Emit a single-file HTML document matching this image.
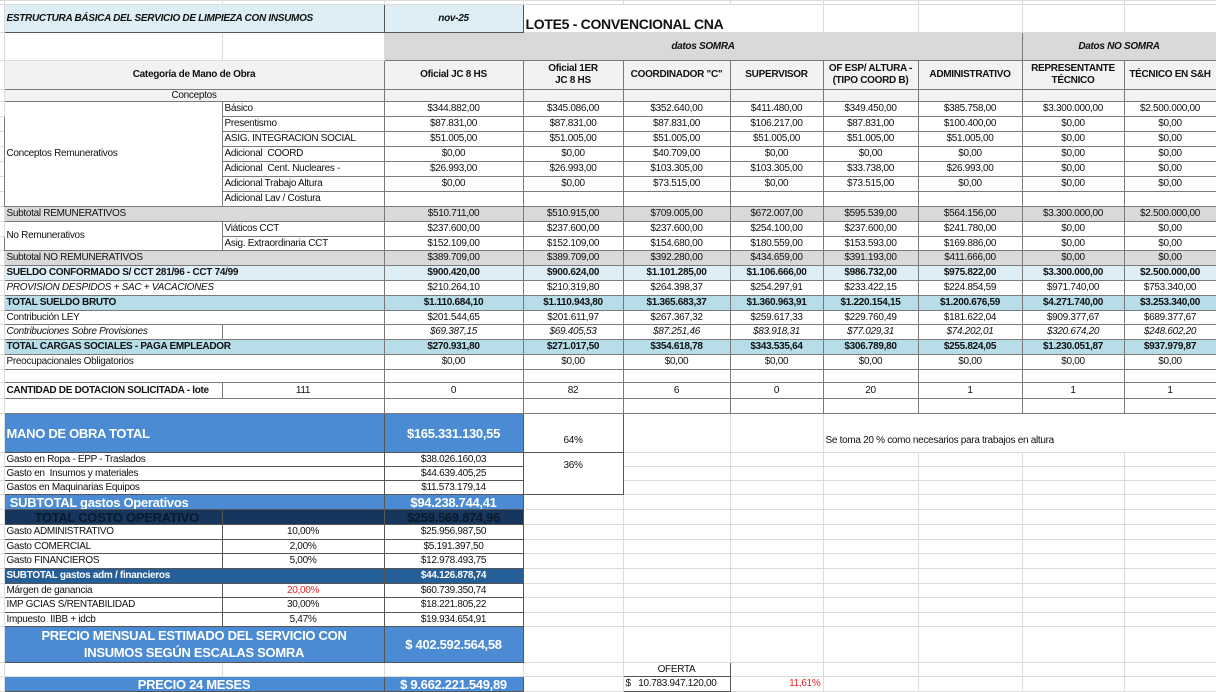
<!DOCTYPE html>
<html><head><meta charset="utf-8">
<style>
html,body{margin:0;padding:0;background:#fff;width:1216px;height:692px;overflow:hidden}
table{border-collapse:collapse;table-layout:fixed;width:1216px;font-family:"Liberation Sans",sans-serif;font-size:10px;letter-spacing:-0.3px;color:#111;position:absolute;left:0;top:0}
td{border:1px solid #dcdcdc;padding:0 2px;overflow:hidden;white-space:nowrap;line-height:1;text-align:center}
tr.d td:not(.m){border-color:#7a7a7a}
td.k{border-color:#555 !important}
.l{text-align:left}
.b{font-weight:bold}
.i{font-style:italic}
.g{background:#d9d9d9}
.lg{background:#f2f2f2}
.lb{background:#ddeef6}
.tb{background:#b7dde8}
.bl{background:#4a8bd3;color:#fff;font-weight:bold}
.nv{background:#17365d;color:#0b1a2c;font-weight:bold;font-size:13px}
.db{background:#265f97;color:#fff;font-weight:bold}
.r{color:#e8262b}
.big{font-size:13px}
td.m{border-left:none;padding:0}
</style></head><body>
<table>
<colgroup><col style="width:4px"><col style="width:218px"><col style="width:162px"><col style="width:139px"><col style="width:100px"><col style="width:107px"><col style="width:93px"><col style="width:95px"><col style="width:104px"><col style="width:102px"><col style="width:92px"></colgroup>
<tr style="height:4px"><td class="m"></td><td></td><td></td><td></td><td></td><td></td><td></td><td></td><td></td><td></td><td></td></tr>
<tr class="d" style="height:28px"><td class="m"></td><td colspan="2" class="l b i lb k">ESTRUCTURA BÁSICA DEL SERVICIO DE LIMPIEZA CON INSUMOS</td><td class="b i lb k">nov-25</td><td colspan="3" class="l b" style="font-size:14px;vertical-align:bottom;padding-bottom:1px;border-color:#dcdcdc">LOTE5 - CONVENCIONAL CNA</td><td style="border-color:#dcdcdc"></td><td style="border-color:#dcdcdc"></td><td style="border-color:#dcdcdc"></td><td style="border-color:#dcdcdc"></td></tr>
<tr class="d" style="height:28px"><td class="m"></td><td style="border-color:#dcdcdc"></td><td style="border-color:#dcdcdc"></td><td colspan="6" class="b i g">datos SOMRA</td><td colspan="2" class="b i g">Datos NO SOMRA</td></tr>
<tr class="d" style="height:29px"><td class="m"></td><td colspan="2" class="b lg">Categoría de Mano de Obra</td><td class="b lg">Oficial JC 8 HS</td><td class="b lg" style="line-height:1.25">Oficial 1ER<br>JC 8 HS</td><td class="b lg">COORDINADOR "C"</td><td class="b lg">SUPERVISOR</td><td class="b lg" style="line-height:1.25">OF ESP/ ALTURA -<br>(TIPO COORD B)</td><td class="b lg">ADMINISTRATIVO</td><td class="b lg" style="line-height:1.25">REPRESENTANTE<br>TÉCNICO</td><td class="b lg">TÉCNICO EN S&amp;H</td></tr>
<tr class="d" style="height:12px"><td class="m"></td><td colspan="2" class="lg">Conceptos</td><td class="lg"></td><td class="lg"></td><td class="lg"></td><td class="lg"></td><td class="lg"></td><td class="lg"></td><td class="lg"></td><td class="lg"></td></tr>
<tr class="d" style="height:15px"><td class="m"></td><td rowspan="7" class="l">Conceptos Remunerativos</td><td class="l">Básico</td><td>$344.882,00</td><td>$345.086,00</td><td>$352.640,00</td><td>$411.480,00</td><td>$349.450,00</td><td>$385.758,00</td><td>$3.300.000,00</td><td>$2.500.000,00</td></tr>
<tr class="d" style="height:15px"><td class="m"></td><td class="l">Presentismo</td><td>$87.831,00</td><td>$87.831,00</td><td>$87.831,00</td><td>$106.217,00</td><td>$87.831,00</td><td>$100.400,00</td><td>$0,00</td><td>$0,00</td></tr>
<tr class="d" style="height:15px"><td class="m"></td><td class="l">ASIG. INTEGRACION SOCIAL</td><td>$51.005,00</td><td>$51.005,00</td><td>$51.005,00</td><td>$51.005,00</td><td>$51.005,00</td><td>$51.005,00</td><td>$0,00</td><td>$0,00</td></tr>
<tr class="d" style="height:15px"><td class="m"></td><td class="l">Adicional&nbsp; COORD</td><td>$0,00</td><td>$0,00</td><td>$40.709,00</td><td>$0,00</td><td>$0,00</td><td>$0,00</td><td>$0,00</td><td>$0,00</td></tr>
<tr class="d" style="height:15px"><td class="m"></td><td class="l">Adicional&nbsp; Cent. Nucleares -</td><td>$26.993,00</td><td>$26.993,00</td><td>$103.305,00</td><td>$103.305,00</td><td>$33.738,00</td><td>$26.993,00</td><td>$0,00</td><td>$0,00</td></tr>
<tr class="d" style="height:15px"><td class="m"></td><td class="l">Adicional Trabajo Altura</td><td>$0,00</td><td>$0,00</td><td>$73.515,00</td><td>$0,00</td><td>$73.515,00</td><td>$0,00</td><td>$0,00</td><td>$0,00</td></tr>
<tr class="d" style="height:15px"><td class="m"></td><td class="l">Adicional Lav / Costura</td><td></td><td></td><td></td><td></td><td></td><td></td><td></td><td></td></tr>
<tr class="d" style="height:15px"><td class="m"></td><td colspan="2" class="l g">Subtotal REMUNERATIVOS</td><td class="g">$510.711,00</td><td class="g">$510.915,00</td><td class="g">$709.005,00</td><td class="g">$672.007,00</td><td class="g">$595.539,00</td><td class="g">$564.156,00</td><td class="g">$3.300.000,00</td><td class="g">$2.500.000,00</td></tr>
<tr class="d" style="height:15px"><td class="m"></td><td rowspan="2" class="l">No Remunerativos</td><td class="l">Viáticos CCT</td><td>$237.600,00</td><td>$237.600,00</td><td>$237.600,00</td><td>$254.100,00</td><td>$237.600,00</td><td>$241.780,00</td><td>$0,00</td><td>$0,00</td></tr>
<tr class="d" style="height:14px"><td class="m"></td><td class="l">Asig. Extraordinaria CCT</td><td>$152.109,00</td><td>$152.109,00</td><td>$154.680,00</td><td>$180.559,00</td><td>$153.593,00</td><td>$169.886,00</td><td>$0,00</td><td>$0,00</td></tr>
<tr class="d" style="height:15px"><td class="m"></td><td colspan="2" class="l g">Subtotal NO REMUNERATIVOS</td><td class="g">$389.709,00</td><td class="g">$389.709,00</td><td class="g">$392.280,00</td><td class="g">$434.659,00</td><td class="g">$391.193,00</td><td class="g">$411.666,00</td><td class="g">$0,00</td><td class="g">$0,00</td></tr>
<tr class="d b" style="height:15px"><td class="m"></td><td colspan="2" class="l lb">SUELDO CONFORMADO S/ CCT 281/96 - CCT 74/99</td><td class="lb">$900.420,00</td><td class="lb">$900.624,00</td><td class="lb">$1.101.285,00</td><td class="lb">$1.106.666,00</td><td class="lb">$986.732,00</td><td class="lb">$975.822,00</td><td class="lb">$3.300.000,00</td><td class="lb">$2.500.000,00</td></tr>
<tr class="d" style="height:15px"><td class="m"></td><td colspan="2" class="l i">PROVISION DESPIDOS + SAC + VACACIONES</td><td>$210.264,10</td><td>$210.319,80</td><td>$264.398,37</td><td>$254.297,91</td><td>$233.422,15</td><td>$224.854,59</td><td>$971.740,00</td><td>$753.340,00</td></tr>
<tr class="d b" style="height:15px"><td class="m"></td><td colspan="2" class="l tb">TOTAL SUELDO BRUTO</td><td class="tb">$1.110.684,10</td><td class="tb">$1.110.943,80</td><td class="tb">$1.365.683,37</td><td class="tb">$1.360.963,91</td><td class="tb">$1.220.154,15</td><td class="tb">$1.200.676,59</td><td class="tb">$4.271.740,00</td><td class="tb">$3.253.340,00</td></tr>
<tr class="d" style="height:14px"><td class="m"></td><td colspan="2" class="l">Contribución LEY</td><td>$201.544,65</td><td>$201.611,97</td><td>$267.367,32</td><td>$259.617,33</td><td>$229.760,49</td><td>$181.622,04</td><td>$909.377,67</td><td>$689.377,67</td></tr>
<tr class="d i" style="height:15px"><td class="m"></td><td class="l">Contribuciones Sobre Provisiones</td><td></td><td>$69.387,15</td><td>$69.405,53</td><td>$87.251,46</td><td>$83.918,31</td><td>$77.029,31</td><td>$74.202,01</td><td>$320.674,20</td><td>$248.602,20</td></tr>
<tr class="d b" style="height:15px"><td class="m"></td><td colspan="2" class="l tb">TOTAL CARGAS SOCIALES - PAGA EMPLEADOR</td><td class="tb">$270.931,80</td><td class="tb">$271.017,50</td><td class="tb">$354.618,78</td><td class="tb">$343.535,64</td><td class="tb">$306.789,80</td><td class="tb">$255.824,05</td><td class="tb">$1.230.051,87</td><td class="tb">$937.979,87</td></tr>
<tr class="d" style="height:15px"><td class="m"></td><td colspan="2" class="l">Preocupacionales Obligatorios</td><td>$0,00</td><td>$0,00</td><td>$0,00</td><td>$0,00</td><td>$0,00</td><td>$0,00</td><td>$0,00</td><td>$0,00</td></tr>
<tr class="d" style="height:13px"><td class="m"></td><td colspan="2"></td><td></td><td></td><td></td><td></td><td></td><td></td><td></td><td></td></tr>
<tr class="d" style="height:16px"><td class="m"></td><td class="l b">CANTIDAD DE DOTACION SOLICITADA - lote</td><td>111</td><td>0</td><td>82</td><td>6</td><td>0</td><td>20</td><td>1</td><td>1</td><td>1</td></tr>
<tr class="d" style="height:15px"><td class="m"></td><td colspan="2"></td><td></td><td></td><td></td><td></td><td></td><td></td><td></td><td></td></tr>
<tr style="height:39px"><td class="m"></td><td colspan="2" class="l bl big k">MANO DE OBRA TOTAL</td><td class="bl big k">$165.331.130,55</td><td class="k" style="vertical-align:bottom;padding-bottom:6px">64%</td><td></td><td></td><td colspan="4" class="l" style="vertical-align:bottom;padding-bottom:6px">Se toma 20 % como necesarios para trabajos en altura</td></tr>
<tr style="height:14px"><td class="m"></td><td colspan="2" class="l k">Gasto en Ropa - EPP - Traslados</td><td class="k">$38.026.160,03</td><td rowspan="3" class="k" style="vertical-align:top;padding-top:8px">36%</td><td></td><td></td><td></td><td></td><td></td><td></td></tr>
<tr style="height:14px"><td class="m"></td><td colspan="2" class="l k">Gasto en&nbsp; Insumos y materiales</td><td class="k">$44.639.405,25</td><td></td><td></td><td></td><td></td><td></td><td></td></tr>
<tr style="height:14px"><td class="m"></td><td colspan="2" class="l k">Gastos en Maquinarias Equipos</td><td class="k">$11.573.179,14</td><td></td><td></td><td></td><td></td><td></td><td></td></tr>
<tr style="height:15px"><td class="m"></td><td colspan="2" class="l bl big k">&nbsp;SUBTOTAL gastos Operativos</td><td class="bl big k">$94.238.744,41</td><td></td><td></td><td></td><td></td><td></td><td></td><td></td></tr>
<tr style="height:15px"><td class="m"></td><td class="l nv k" style="padding-left:30px">TOTAL COSTO OPERATIVO</td><td class="nv k"></td><td class="nv k">$259.569.874,96</td><td></td><td></td><td></td><td></td><td></td><td></td><td></td></tr>
<tr style="height:15px"><td class="m"></td><td class="l k">Gasto ADMINISTRATIVO</td><td class="k">10,00%</td><td class="k">$25.956.987,50</td><td></td><td></td><td></td><td></td><td></td><td></td><td></td></tr>
<tr style="height:14px"><td class="m"></td><td class="l k">Gasto COMERCIAL</td><td class="k">2,00%</td><td class="k">$5.191.397,50</td><td></td><td></td><td></td><td></td><td></td><td></td><td></td></tr>
<tr style="height:15px"><td class="m"></td><td class="l k">Gasto FINANCIEROS</td><td class="k">5,00%</td><td class="k">$12.978.493,75</td><td></td><td></td><td></td><td></td><td></td><td></td><td></td></tr>
<tr style="height:15px"><td class="m"></td><td colspan="2" class="l db k">SUBTOTAL gastos adm / financieros</td><td class="db k">$44.126.878,74</td><td></td><td></td><td></td><td></td><td></td><td></td><td></td></tr>
<tr style="height:14px"><td class="m"></td><td class="l k">Márgen de ganancia</td><td class="k r">20,00%</td><td class="k">$60.739.350,74</td><td></td><td></td><td></td><td></td><td></td><td></td><td></td></tr>
<tr style="height:15px"><td class="m"></td><td class="l k">IMP GCIAS S/RENTABILIDAD</td><td class="k">30,00%</td><td class="k">$18.221.805,22</td><td></td><td></td><td></td><td></td><td></td><td></td><td></td></tr>
<tr style="height:14px"><td class="m"></td><td class="l k">Impuesto&nbsp; IIBB + idcb</td><td class="k">5,47%</td><td class="k">$19.934.654,91</td><td></td><td></td><td></td><td></td><td></td><td></td><td></td></tr>
<tr style="height:36px"><td class="m"></td><td colspan="2" class="bl big k" style="line-height:1.25">PRECIO MENSUAL ESTIMADO DEL SERVICIO CON<br>INSUMOS SEGÚN ESCALAS SOMRA</td><td class="bl big k">$ 402.592.564,58</td><td></td><td></td><td></td><td></td><td></td><td></td><td></td></tr>
<tr style="height:14px"><td class="m"></td><td></td><td></td><td></td><td></td><td class="k">OFERTA</td><td></td><td></td><td></td><td></td><td></td></tr>
<tr style="height:15px"><td class="m"></td><td colspan="2" class="bl big k">PRECIO 24 MESES</td><td class="bl big k">$ 9.662.221.549,89</td><td></td><td class="k l">$&nbsp;&nbsp; 10.783.947.120,00</td><td class="r" style="text-align:right">11,61%</td><td></td><td></td><td></td><td></td></tr>
</table>
</body></html>
